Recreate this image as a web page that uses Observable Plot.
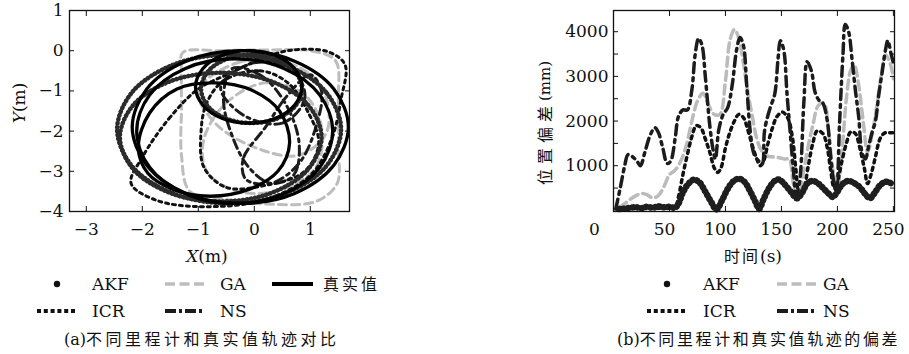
<!DOCTYPE html>
<html><head><meta charset="utf-8">
<script src="https://cdn.jsdelivr.net/npm/d3@7"></script>
<script src="https://cdn.jsdelivr.net/npm/@observablehq/plot@0.6"></script>
<style>
html,body{margin:0;padding:0;background:#fff;}
#page{position:relative;width:909px;height:354px;overflow:hidden;font-family:'DejaVu Serif','Noto Sans CJK SC',serif;color:#111;}
.abs{position:absolute;left:0;top:0;}
</style></head><body><div id="page"></div>
<script>
// ---------- Panel (a): trajectories (m) ----------
const xTicksA = [-3, -2, -1, 0, 1];
const yTicksA = [-4, -3, -2, -1, 0, 1];

const truthLoop1 = [[1.68,-1.9],[1.42,-0.95],[0.72,-0.26],[-0.25,0.0],[-1.22,-0.26],[-1.92,-0.95],[-2.18,-1.9],[-1.92,-2.85],[-1.22,-3.55],[-0.25,-3.8],[0.72,-3.55],[1.42,-2.85]];
const truthLoop2 = [[0.85,-0.9],[0.72,-0.45],[0.38,-0.12],[-0.1,0.0],[-0.58,-0.12],[-0.92,-0.45],[-1.05,-0.9],[-0.92,-1.35],[-0.58,-1.68],[-0.1,-1.8],[0.38,-1.68],[0.72,-1.35]];
const truthLoop3 = [[0.63,-2.3],[0.45,-1.5],[-0.05,-0.98],[-0.7,-0.8],[-1.38,-0.95],[-1.87,-1.55],[-2.07,-2.4],[-1.9,-3.05],[-1.45,-3.45],[-0.8,-3.62],[-0.1,-3.45],[0.42,-3.0]];
const truthLoop4 = [[1.4,-2.0],[1.17,-1.1],[0.53,-0.44],[-0.35,-0.2],[-1.23,-0.44],[-1.87,-1.1],[-2.1,-2.0],[-1.87,-2.9],[-1.23,-3.56],[-0.35,-3.8],[0.53,-3.56],[1.17,-2.9]];

const akfLoop1 = [[1.55,-1.95],[1.28,-1.03],[0.55,-0.35],[-0.45,-0.1],[-1.45,-0.35],[-2.18,-1.03],[-2.45,-1.95],[-2.18,-2.88],[-1.45,-3.55],[-0.45,-3.8],[0.55,-3.55],[1.28,-2.88]];
const akfLoop2 = [[1.2,-2.15],[0.96,-1.35],[0.3,-0.76],[-0.6,-0.55],[-1.5,-0.76],[-2.16,-1.35],[-2.4,-2.15],[-2.16,-2.95],[-1.5,-3.54],[-0.6,-3.75],[0.3,-3.54],[0.96,-2.95]];
const akfLoop3 = [[0.85,-0.95],[0.73,-0.52],[0.4,-0.21],[-0.05,-0.1],[-0.5,-0.21],[-0.83,-0.52],[-0.95,-0.95],[-0.83,-1.38],[-0.5,-1.69],[-0.05,-1.8],[0.4,-1.69],[0.73,-1.38]];

const icrLoop1 = [[-1.0,-0.95],[-1.5,-1.65],[-2.0,-2.65],[-2.2,-3.3],[-1.75,-3.72],[-0.9,-3.88],[0.2,-3.7],[1.0,-3.1],[1.38,-2.2],[1.55,-1.2],[1.62,-0.35],[1.3,-0.02],[0.6,0.0],[0.05,-0.25],[-0.5,-0.6]];
const icrLoop2 = [[-0.55,-0.75],[0.1,-0.5],[0.6,-0.8],[0.95,-1.5],[1.15,-2.3],[0.9,-3.0],[0.2,-3.35],[-0.5,-3.4],[-0.9,-2.9],[-0.95,-2.0],[-0.85,-1.3]];

const gaLoop1 = [[-1.28,-0.05],[-0.6,0.0],[0.3,0.02],[1.0,0.0],[1.45,-0.25],[1.5,-1.2],[1.5,-2.4],[1.48,-3.3],[1.1,-3.75],[0.3,-3.82],[-0.5,-3.7],[-1.15,-3.5],[-1.3,-2.6],[-1.3,-1.4],[-1.3,-0.5]];
const gaLoop2 = [[-0.9,-2.2],[-0.5,-1.3],[0.2,-0.8],[0.9,-1.1],[1.2,-1.9],[1.1,-2.9],[0.5,-3.45],[-0.3,-3.5],[-0.85,-3.0]];
const gaLoop3 = [[-1.0,-1.0],[-0.3,-0.3],[0.6,-0.3],[1.2,-0.9],[1.3,-2.0],[0.8,-2.6],[0.0,-2.4],[-0.7,-1.8]];

const nsLoop1 = [[-0.4,-0.45],[0.1,-0.6],[0.55,-1.3],[0.8,-2.3],[0.7,-3.1],[0.3,-3.3],[-0.1,-2.9],[-0.4,-2.1],[-0.55,-1.2]];
const nsLoop2 = [[-0.2,-2.7],[0.2,-1.9],[0.6,-1.1],[1.0,-0.6],[1.2,-1.0],[1.1,-1.9],[0.8,-2.8],[0.3,-3.3],[-0.15,-3.2]];
const nsLoop3 = [[-0.6,-0.9],[0.0,-0.3],[0.7,-0.5],[0.9,-1.2],[0.5,-1.8],[-0.2,-1.6]];

// ---------- Panel (b): deviation (mm) over time (s) ----------
const xTicksB = [0, 50, 100, 150, 200, 250];
const yLabelsB = [1000, 2000, 3000, 4000];
const yTicksB = [500, 1000, 1500, 2000, 2500, 3000, 3500, 4000];

const tAKF = [5,10,15,20,25,30,35,40,45,50,55,58,62,67,72,77,82,87,92,97,102,107,112,117,122,127,130,134,139,144,148,153,158,164,169,173,178,183,188,192,196,200,205,210,215,220,225,229,233,238,243,247,250];
const vAKF = [30,40,60,70,50,80,60,90,70,80,60,150,400,600,690,620,420,200,20,230,480,650,710,640,430,180,30,250,500,660,690,580,430,270,420,600,660,600,480,380,300,420,600,660,610,520,360,270,380,560,640,620,560];

const tICR = [5,10,20,30,40,50,55,58,62,66,70,74,78,82,86,90,93,96,100,104,108,112,116,120,124,128,131,134,138,142,146,151,156,160,163,166,169,174,178,182,187,191,194,197,200,204,208,212,216,220,224,227,230,234,238,242,246,250];
const vICR = [40,40,60,70,50,60,50,300,800,1250,1650,1900,1850,1600,1300,950,850,950,1400,1750,2000,2150,2080,1800,1450,1150,1000,1100,1500,1850,2100,2200,2050,1600,900,350,400,1000,1500,1780,1720,1400,900,520,650,1100,1500,1760,1720,1400,950,600,800,1200,1600,1730,1740,1740];

const tGA = [5,10,15,20,25,30,35,40,45,50,55,60,65,70,75,80,85,90,95,100,104,108,112,116,120,124,128,132,137,142,148,153,157,160,163,166,170,174,178,183,188,192,196,200,204,208,212,215,219,223,227,231,235,239,243,247,250];
const vGA = [60,150,250,330,380,350,280,330,530,800,900,1100,1450,2000,2450,2620,2350,2150,2150,2900,3800,4050,3850,3300,2650,2100,1600,1350,1220,1200,1180,1150,1150,700,320,400,900,1450,1900,2350,2400,1800,900,500,1300,2500,3150,3250,2800,2000,1300,1700,2300,3000,3480,3300,2950];

const tNS = [2,6,10,13,17,21,24,28,33,37,40,44,48,51,55,58,62,66,70,73,76,79,82,86,89,91,94,98,102,106,110,113,116,119,122,125,128,131,133,135,140,144,147,149,152,155,158,161,163,166,170,173,177,180,184,187,191,194,197,199,202,205,207,210,213,216,219,222,225,228,231,234,237,240,243,245,248,250];
const vNS = [30,500,1000,1250,1200,1100,1000,1300,1700,1850,1750,1400,1050,1100,1600,2100,2250,2250,2700,3500,3850,3700,3000,1900,1350,1150,1800,2150,2300,2800,3600,3870,3700,2800,1800,1300,1150,1080,1050,1800,2300,2600,3400,3800,3600,2600,1700,800,350,600,2400,3330,3100,2650,2450,2400,2000,1200,600,400,2000,3500,4160,4000,3400,2700,2100,1300,1150,1450,1750,2000,2600,3100,3600,3800,3500,3300];

// ---------- text ----------
const legendNames = ["AKF", "ICR", "GA", "NS", "真实值"];
const captionA = ["(a)", "不同里程计和真实值轨迹对比"];
const captionB = ["(b)", "不同里程计和真实值轨迹的偏差"];
const xTitleA = ["X", "(m)"];
const yTitleA = ["Y", "(m)"];
const xTitleB = ["时间", "(s)"];
const yTitleB = ["位置偏差", "(mm)"];

// ---------- styles ----------
const FONT = "'DejaVu Serif','Noto Sans CJK SC',serif";
const sA = {
  GA: {stroke: "#bdbdbd", strokeWidth: 3, strokeDasharray: "8,5"},
  NS: {stroke: "#1c1c1c", strokeWidth: 3, strokeDasharray: "9,4.5,3,4.5"},
  ICR: {stroke: "#111", strokeWidth: 3, strokeDasharray: "3,4"},
  AKF: {stroke: "#2b2b2b", strokeWidth: 4.5, strokeDasharray: "0.5,3.5", strokeLinecap: "round"},
  truth: {stroke: "#000", strokeWidth: 3.3}
};
const sB = {
  GA: {stroke: "#bbbbbb", strokeWidth: 3.5, strokeDasharray: "9,5"},
  ICR: {stroke: "#111", strokeWidth: 3.5, strokeDasharray: "3,4.5"},
  NS: {stroke: "#1c1c1c", strokeWidth: 3.5, strokeDasharray: "10,5,3,5"},
  AKF: {stroke: "#1e1e1e", strokeWidth: 6.5, strokeDasharray: "0.5,4", strokeLinecap: "round"}
};

function loopsTable(loops) {
  return loops.flatMap((pts, i) => pts.map(([x, y]) => ({x, y, loop: i})));
}
function seriesTable(ts, vs) { return ts.map((t, i) => ({t, v: vs[i]})); }

const page = document.getElementById("page");

const loopOpts = {x: "x", y: "y", z: "loop", curve: "catmull-rom-closed"};
const plotA = Plot.plot({
  width: 360, height: 240,
  marginLeft: 69, marginRight: 11, marginTop: 10, marginBottom: 29,
  x: {domain: [-3.3, 1.7]},
  y: {domain: [-4, 1]},
  style: {fontFamily: FONT, fontSize: "17px", color: "#111", background: "transparent", overflow: "visible"},
  marks: [
    Plot.line(loopsTable([gaLoop1, gaLoop2, gaLoop3]), {...loopOpts, ...sA.GA}),
    Plot.line(loopsTable([nsLoop1, nsLoop2, nsLoop3]), {...loopOpts, ...sA.NS}),
    Plot.line(loopsTable([icrLoop1, icrLoop2]), {...loopOpts, ...sA.ICR}),
    Plot.line(loopsTable([akfLoop1, akfLoop2, akfLoop3]), {...loopOpts, ...sA.AKF}),
    Plot.line(loopsTable([truthLoop1, truthLoop2, truthLoop3, truthLoop4]), {...loopOpts, ...sA.truth}),
    Plot.frame({stroke: "#111", strokeWidth: 1.3}),
    Plot.axisX(xTicksA, {anchor: "bottom", tickSize: -5, tickPadding: 16, label: null}),
    Plot.axisX(xTicksA, {anchor: "top", tickSize: -5, tickFormat: () => "", label: null}),
    Plot.axisY(yTicksA, {anchor: "left", tickSize: -5, tickPadding: 11, label: null}),
    Plot.axisY(yTicksA, {anchor: "right", tickSize: -5, tickFormat: () => "", label: null})
  ]
});
plotA.classList.add("abs");
plotA.style.left = "0px";
page.appendChild(plotA);

const lineOpts = {x: "t", y: "v", curve: "catmull-rom"};
const plotB = Plot.plot({
  width: 369, height: 240,
  marginLeft: 73, marginRight: 15, marginTop: 10, marginBottom: 29,
  x: {domain: [0, 251]},
  y: {domain: [-25, 4475]},
  style: {fontFamily: FONT, fontSize: "17px", color: "#111", background: "transparent", overflow: "visible"},
  marks: [
    Plot.line(seriesTable(tGA, vGA), {...lineOpts, ...sB.GA}),
    Plot.line(seriesTable(tICR, vICR), {...lineOpts, ...sB.ICR}),
    Plot.line(seriesTable(tNS, vNS), {...lineOpts, ...sB.NS}),
    Plot.line(seriesTable(tAKF, vAKF), {...lineOpts, ...sB.AKF}),
    Plot.frame({stroke: "#111", strokeWidth: 1.3}),
    Plot.axisX(xTicksB, {anchor: "bottom", tickSize: -5, tickFormat: () => "", label: null}),
    Plot.axisX(xTicksB, {anchor: "top", tickSize: -5, tickFormat: () => "", label: null}),
    Plot.axisX(xTicksB.slice(0, 1), {anchor: "bottom", tickSize: 0, tickPadding: 11, dx: -19, tickFormat: d => String(d), label: null}),
    Plot.axisX(xTicksB.slice(1), {anchor: "bottom", tickSize: 0, tickPadding: 11, dx: -5, tickFormat: d => String(d), label: null}),
    Plot.axisY(yTicksB, {anchor: "left", tickSize: -5, tickFormat: () => "", label: null}),
    Plot.axisY(yTicksB, {anchor: "right", tickSize: -5, tickFormat: () => "", label: null}),
    Plot.axisY(yLabelsB, {anchor: "left", tickSize: 0, tickPadding: 5, tickFormat: d => String(d), label: null})
  ]
});
plotB.classList.add("abs");
plotB.style.left = "540px";
page.appendChild(plotB);

// ---------- legends, titles, captions (overlay) ----------
const NS_SVG = "http://www.w3.org/2000/svg";
const ov = document.createElementNS(NS_SVG, "svg");
ov.setAttribute("width", 909); ov.setAttribute("height", 354);
ov.setAttribute("class", "abs");
ov.style.fontFamily = FONT;
page.appendChild(ov);

function el(tag, attrs, parent = ov) {
  const e = document.createElementNS(NS_SVG, tag);
  for (const k in attrs) e.setAttribute(k, attrs[k]);
  parent.appendChild(e);
  return e;
}
// parts: [[string, attrs], ...]
function mixed(x, y, parts, attrs = {}, parent = ov) {
  const t = el("text", {x, y, "dominant-baseline": "central", "font-size": 17, fill: "#111", ...attrs}, parent);
  for (const [s, a] of parts) el("tspan", a, t).textContent = s;
  return t;
}
const cjk = {"letter-spacing": "3px", "font-size": 16};
const ital = {"font-style": "italic"};

// axis titles
mixed(207, 256, [[xTitleA[0], ital], [xTitleA[1], {}]], {"text-anchor": "middle"});
{
  const g = el("g", {transform: "translate(19,103) rotate(-90)"});
  mixed(0, 0, [[yTitleA[0], ital], [yTitleA[1], {}]], {"text-anchor": "middle"}, g);
}
mixed(753, 256, [[xTitleB[0], {...cjk, "letter-spacing": "2px"}], [xTitleB[1], {}]], {"text-anchor": "middle"});
{
  const g = el("g", {transform: "translate(545,123) rotate(-90)"});
  mixed(0, 0, [[yTitleB[0], {"font-size": 16, "letter-spacing": "5px"}], [yTitleB[1], {"font-size": 15}]], {"text-anchor": "middle"}, g);
}

// legend swatches
const swatch = {
  AKF: (x, y) => el("circle", {cx: x + 20, cy: y, r: 3.2, fill: "#111"}),
  ICR: (x, y) => el("line", {x1: x, x2: x + 40, y1: y, y2: y, stroke: "#111", "stroke-width": 4, "stroke-dasharray": "4,2.8"}),
  GA: (x, y) => el("line", {x1: x, x2: x + 40, y1: y, y2: y, stroke: "#bdbdbd", "stroke-width": 3.5, "stroke-dasharray": "10,4.5"}),
  NS: (x, y) => el("line", {x1: x, x2: x + 40, y1: y, y2: y, stroke: "#1c1c1c", "stroke-width": 4, "stroke-dasharray": "11,3,3,3"}),
  "真实值": (x, y) => el("line", {x1: x, x2: x + 41, y1: y, y2: y, stroke: "#000", "stroke-width": 4})
};
// [name, swatch x, text x, row y]
const legendLayoutA = [
  [legendNames[0], 37, 92, 284], [legendNames[2], 165, 220, 284], [legendNames[4], 272, 323, 284],
  [legendNames[1], 37, 92, 311], [legendNames[3], 165, 220, 311]
];
const legendLayoutB = [
  [legendNames[0], 647, 703, 284], [legendNames[2], 777, 823, 284],
  [legendNames[1], 647, 703, 311], [legendNames[3], 777, 823, 311]
];
for (const [name, sx, tx, y] of [...legendLayoutA, ...legendLayoutB]) {
  swatch[name](sx, y);
  mixed(tx, y, [[name, name === "真实值" ? cjk : {}]]);
}

// captions
mixed(64, 339, [[captionA[0], {"font-size": 16}], [captionA[1], {...cjk, "letter-spacing": "3.5px"}]]);
mixed(617, 339, [[captionB[0], {"font-size": 16}], [captionB[1], {...cjk, "letter-spacing": "2.6px"}]]);
</script></body></html>
